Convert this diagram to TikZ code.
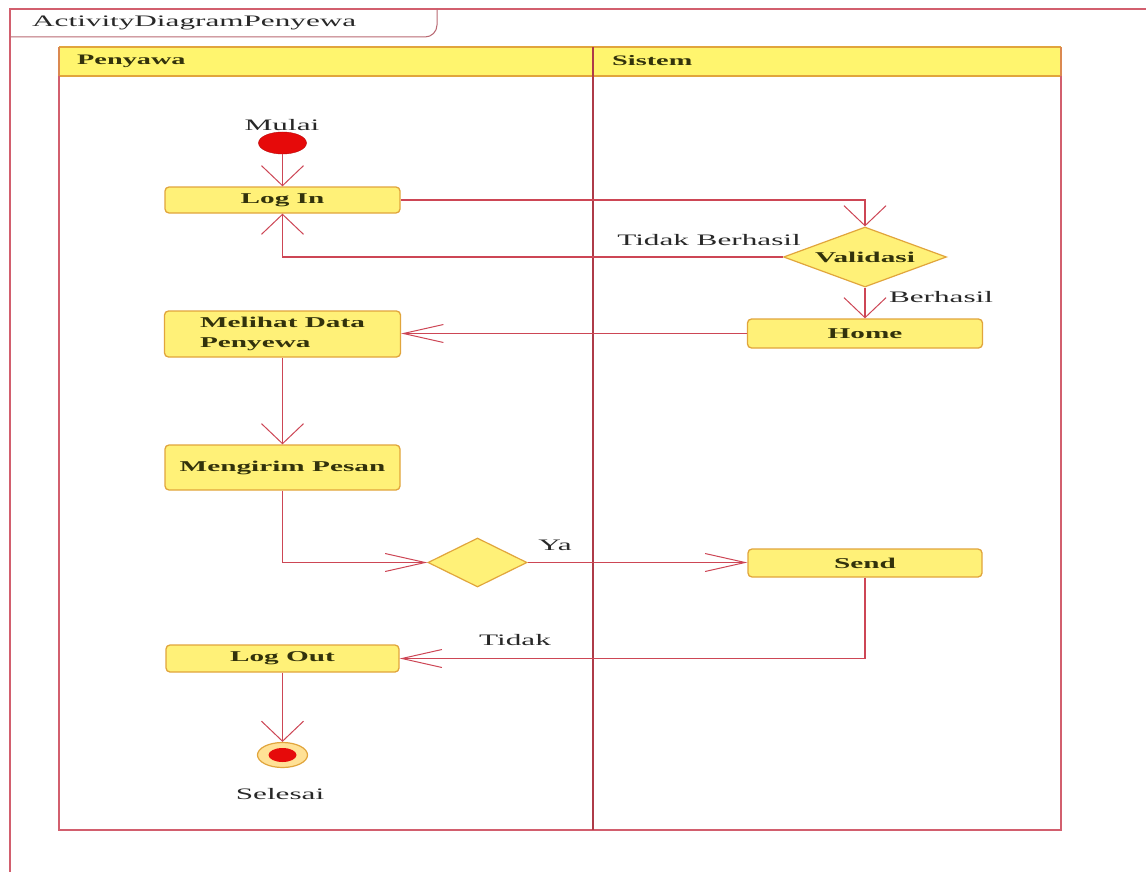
\documentclass[tikz,border=0pt]{standalone}
\usepackage{fontspec}
\setmainfont{Liberation Serif}[FakeStretch=1.95]
\usetikzlibrary{shapes.geometric,arrows.meta}
\definecolor{linered}{RGB}{205,70,85}
\definecolor{lanered}{RGB}{210,95,110}
\definecolor{boxfill}{RGB}{255,241,120}
\definecolor{boxborder}{RGB}{225,165,60}
\definecolor{headfill}{RGB}{255,245,110}
\definecolor{boxtext}{RGB}{50,50,12}
\definecolor{labeltext}{RGB}{40,40,40}
\definecolor{startred}{RGB}{230,10,10}
\definecolor{endring}{RGB}{255,225,150}
\tikzset{
  every node/.style={font=\fontsize{16}{18}\selectfont},
  actbox/.style={draw=boxborder, fill=boxfill, line width=1.3pt, rounded corners=4pt,
    inner sep=0pt, font=\fontsize{15}{20}\selectfont\bfseries, text=boxtext},
  decbox/.style={diamond, draw=boxborder, fill=boxfill, line width=1.2pt, inner sep=0pt,
    font=\fontsize{15}{17}\selectfont\bfseries, text=boxtext},
  lbl/.style={text=labeltext, inner sep=0pt},
  headlbl/.style={text=boxtext, inner sep=0pt, anchor=west, font=\fontsize{14.5}{16}\selectfont\bfseries},
  conn/.style={draw=linered, line width=1.2pt},
  vtip/.tip={Straight Barb[length=20pt,width=42pt,line width=1pt]},
  htip/.tip={Straight Barb[length=40pt,width=18pt,line width=1pt]},
}
\begin{document}
\begin{tikzpicture}[x=1pt,y=-1pt]
\useasboundingbox[fill=white] (0,0) rectangle (1146,872);
% outer frame
\draw[lanered, line width=1.2pt] (1146,9) -- (10,9) -- (10,872);
\draw[lanered!70!gray, line width=1pt] (10,37) -- (425,37) to[out=0,in=-90] (437,25) -- (437,9);
\node[lbl, anchor=west] (title) at (32,23) {ActivityDiagramPenyewa};
% swimlanes
\fill[headfill] (59,47) rectangle (1061,76);
\draw[boxborder, line width=1.2pt] (59,76) -- (1061,76);
\draw[boxborder, line width=1.2pt] (59,47) -- (1061,47);
\draw[lanered, line width=1.5pt] (59,76) -- (59,830) -- (1061,830) -- (1061,76);
\draw[boxborder!60!lanered, line width=1.5pt] (59,47) -- (59,76) (1061,47) -- (1061,76);
\draw[linered!85!black, line width=2.2pt] (593,47) -- (593,830);
\node[headlbl] (lane1) at (77,61) {Penyawa};
\node[headlbl] (lane2) at (612,61) {Sistem};
% nodes
\node[ellipse, draw=startred!80!black, fill=startred, minimum width=48pt, minimum height=22pt, inner sep=0pt] (start) at (282.5,143) {};
\node[lbl] (mulai) at (282,125) {Mulai};
\node[actbox, minimum width=235pt, minimum height=26pt] (login) at (282.5,200) {Log In};
\node[decbox, minimum width=163pt, minimum height=60pt, shape aspect=2.7] (valid) at (865,257) {Validasi};
\node[actbox, minimum width=235pt, minimum height=29pt] (home) at (865,333.5) {Home};
\node[actbox, minimum width=236pt, minimum height=46pt, align=left] (melihat) at (282.5,334) {Melihat Data\\Penyewa};
\node[actbox, minimum width=235pt, minimum height=45pt] (kirim) at (282.5,467.5) {Mengirim Pesan};
\node[decbox, minimum width=99pt, minimum height=49pt, shape aspect=2] (dec) at (477.5,562.5) {};
\node[actbox, minimum width=234pt, minimum height=28pt] (send) at (865,563) {Send};
\node[actbox, minimum width=233pt, minimum height=27pt] (logout) at (282.5,658.5) {Log Out};
\node[ellipse, draw=boxborder, fill=endring, line width=1.2pt, minimum width=50pt, minimum height=25pt, inner sep=0pt] (end) at (282.5,755) {};
\node[ellipse, fill=startred, minimum width=28pt, minimum height=14pt, inner sep=0pt] (endin) at (282.5,755) {};
\node[lbl] (selesai) at (280,794) {Selesai};
% labels
\node[lbl] (ltb) at (709,240) {Tidak Berhasil};
\node[lbl] (lb) at (941,297) {Berhasil};
\node[lbl] (lya) at (555,545) {Ya};
\node[lbl] (ltidak) at (515,640) {Tidak};
% connectors
\draw[conn, -{vtip}] (start.south) -- (login.north);
\draw[conn, -{vtip}] (login.east) -| (valid.north);
\draw[conn, -{vtip}] (valid.west) -| (login.south);
\draw[conn, -{vtip}] (valid.south) -- (home.north);
\draw[conn, -{htip}] (home.west) -- (home.west -| melihat.east);
\draw[conn, -{vtip}] (melihat.south) -- (kirim.north);
\draw[conn, -{htip}] (kirim.south) |- (dec.west);
\draw[conn, -{htip}] (dec.east) -- (dec.east -| send.west);
\draw[conn, -{htip}] (send.south) |- (logout.east);
\draw[conn, -{vtip}] (logout.south) -- (end.north);
\end{tikzpicture}
\end{document}
